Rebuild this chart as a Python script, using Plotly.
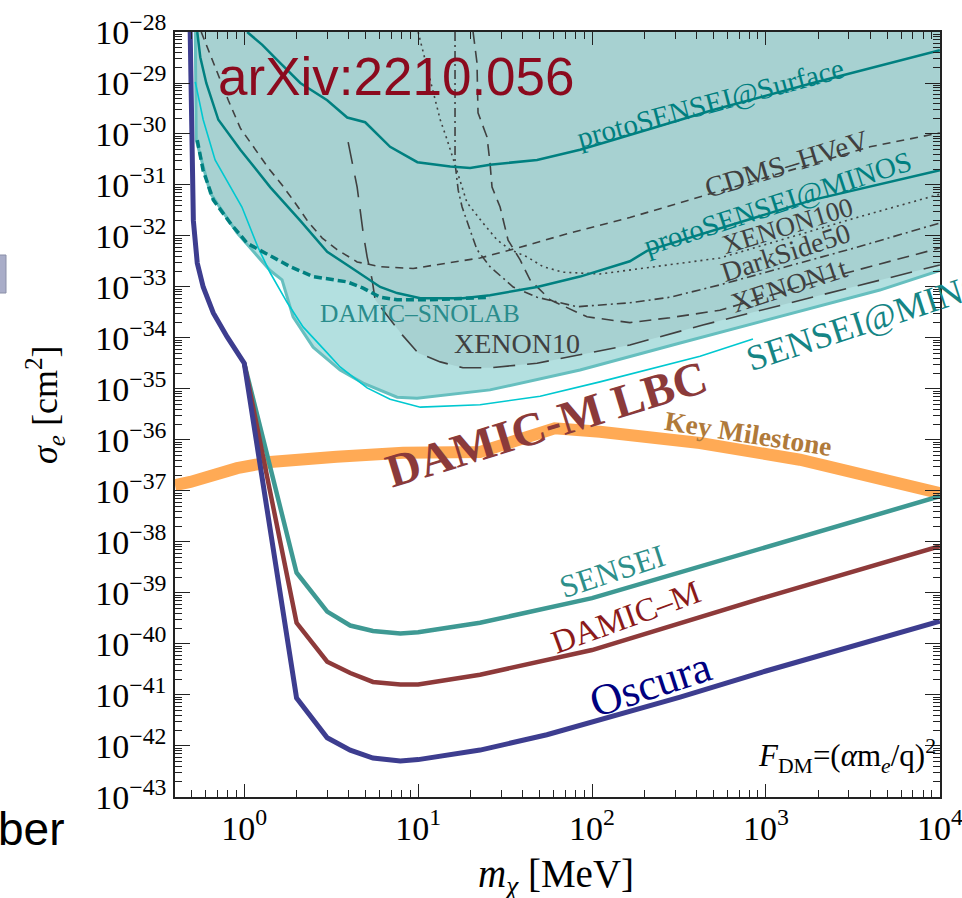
import plotly.graph_objects as go

# ---------------- data (mass in MeV, cross section in cm^2) ----------------
oscura_m = [0.489, 0.503, 0.51, 0.537, 0.581, 0.664, 0.798, 1.0, 2.0, 3.0, 4.07, 5.5, 7.9, 10, 22.7, 55, 100, 321, 1000, 10000]
oscura_s = [1e-28, 1.26e-31, 2.0e-32, 2.95e-33, 1.0e-33, 3.1e-34, 1.05e-34, 3.2e-35, 8.7e-42, 1.45e-42, 8.3e-43, 5.8e-43, 5.1e-43, 5.4e-43, 8.3e-43, 1.66e-42, 2.95e-42, 9.1e-42, 2.95e-41, 2.8e-40]

damicm_m = [1.0, 2.0, 3.0, 4.07, 5.5, 7.9, 10, 22.7, 100, 1000, 10000]
damicm_s = [3.2e-35, 2.6e-40, 4.5e-41, 2.7e-41, 1.8e-41, 1.6e-41, 1.6e-41, 2.5e-41, 7.6e-41, 8.3e-40, 8.3e-39]

sensei_m = [1.0, 2.0, 3.0, 4.07, 5.5, 7.9, 10, 22.7, 100, 1000, 10000]
sensei_s = [3.2e-35, 2.5e-39, 4.3e-40, 2.3e-40, 1.8e-40, 1.6e-40, 1.7e-40, 2.6e-40, 7.9e-40, 7.9e-39, 7.9e-38]

milestone_m = [0.40, 0.49, 0.91, 1.41, 3.4, 8.2, 22.7, 38.6, 61, 111, 418, 1568, 5890, 10000]
milestone_s = [1.3e-37, 1.5e-37, 2.8e-37, 3.7e-37, 4.7e-37, 5.6e-37, 5.8e-37, 1.0e-36, 1.7e-36, 1.45e-36, 8.7e-37, 4.1e-37, 1.5e-37, 9.1e-38]

minos_region_m = [0.523, 0.53, 0.638, 0.91, 1.41, 1.65, 1.91, 2.49, 3.56, 4.83, 7.57, 9.86, 25.9, 85.3, 321, 1203, 4520, 10000]
minos_region_s = [1e-28, 7.6e-31, 6.9e-32, 1.15e-32, 2.1e-33, 1.38e-33, 2.6e-34, 6.6e-35, 2.35e-35, 1.3e-35, 6.9e-36, 6.6e-36, 9.6e-36, 2.35e-35, 8e-35, 2.6e-34, 8.7e-34, 2.1e-33]

excluded_m = [0.533, 0.537, 0.58, 0.664, 0.83, 1.04, 1.36, 1.84, 2.49, 3.42, 3.91, 4.83, 5.51, 5.66, 6.72, 8.1, 10, 13.4, 18.1, 25.9, 48.3, 74.8, 165, 434, 1862, 10000]
excluded_s = [1e-28, 7.6e-31, 1.95e-31, 5.1e-32, 1.8e-32, 7.2e-33, 4.3e-33, 2.5e-33, 1.6e-33, 1.38e-33, 1.26e-33, 9.5e-34, 8.0e-34, 5.6e-34, 2.6e-34, 1.15e-34, 5.1e-35, 3.4e-35, 2.6e-35, 2.6e-35, 3.2e-35, 4.3e-35, 7.3e-35, 1.8e-34, 6.3e-34, 2.7e-33]

sensei2019_m = [0.523, 0.581, 0.68, 0.97, 1.2, 1.41, 1.77, 2.18, 3.0, 3.56, 5.09, 6.9, 10.3, 22.7, 50.3, 111, 418, 842]
sensei2019_s = [1.05e-29, 1.9e-30, 3.1e-31, 3.7e-32, 6e-33, 1.9e-33, 4.9e-34, 1.65e-34, 5.1e-35, 2.7e-35, 1.05e-35, 6.3e-36, 4.4e-36, 4.9e-36, 7.2e-36, 1.38e-35, 4.4e-35, 9.6e-35]

snolab_m = [0.537, 0.58, 0.664, 0.83, 1.04, 1.36, 1.84, 2.49, 3.42, 3.91, 4.83, 6.05, 7.57, 11.7, 25.9]
snolab_s = [7.6e-31, 1.95e-31, 5.1e-32, 1.8e-32, 7.2e-33, 4.3e-33, 2.5e-33, 1.6e-33, 1.38e-33, 1.26e-33, 9.5e-34, 6.3e-34, 5.6e-34, 5.6e-34, 6.3e-34]

psminos_m = [0.537, 0.559, 0.605, 0.71, 0.95, 1.41, 2.1, 3.0, 3.91, 4.83, 6.05, 7.57, 10.3, 18.1, 25.9, 48.3, 85.3, 165, 207, 1862, 10000]
psminos_s = [1e-28, 3.2e-29, 1e-29, 1.9e-30, 4.9e-31, 9.1e-32, 2.0e-32, 4.9e-33, 2.7e-33, 1.7e-33, 1e-33, 7.6e-34, 6e-34, 6e-34, 6.9e-34, 1e-33, 1.6e-33, 3.2e-33, 5.1e-33, 5.1e-32, 1.95e-31]

pssurf_m = [1.04, 1.27, 1.55, 2.1, 3.0, 3.91, 4.96, 6.9, 9.9, 15.3, 19.9, 25.9, 48.3, 85.3, 132, 496, 1862, 10000]
pssurf_s = [1e-28, 5.6e-29, 2.8e-29, 1e-29, 4.6e-30, 2.1e-30, 1.7e-30, 5.6e-31, 2.8e-31, 2.3e-31, 2.15e-31, 2.5e-31, 3.1e-31, 4.9e-31, 7.6e-31, 2.95e-30, 1e-29, 4.4e-29]

cdms_m = [0.566, 0.638, 0.70, 0.81, 0.95, 1.13, 1.37, 1.65, 1.96, 2.33, 2.81, 3.42, 4.46, 6.05, 9.36, 14.7, 22.7, 38.6, 74.8, 165, 496, 3963, 10000]
cdms_s = [1e-28, 3.5e-29, 1.65e-29, 4.6e-30, 1.3e-30, 5.6e-31, 2.2e-31, 1e-31, 4.5e-32, 1.9e-32, 9.1e-33, 5.4e-33, 3.1e-33, 2.5e-33, 2.3e-33, 2.95e-33, 3.7e-33, 6e-33, 1.15e-32, 2.3e-32, 6.9e-32, 5.6e-31, 1.05e-30]

xenon10_m = [3.96, 4.46, 4.83, 5.09, 5.44, 5.66, 6.72, 8.1, 10, 13.4, 18.1, 25.9, 48.3, 74.8, 165, 434, 1862, 10000]
xenon10_s = [6.9e-31, 9.1e-32, 1.15e-32, 3.9e-33, 1.38e-33, 5.6e-34, 2.6e-34, 1.15e-34, 5.1e-35, 3.4e-35, 2.6e-35, 2.6e-35, 3.2e-35, 4.3e-35, 7.3e-35, 1.8e-34, 6.3e-34, 2.7e-33]

xenon100_m = [10, 11.7, 13.4, 14.7, 17.0, 19.1, 23.6, 28.5, 33.8, 42.3, 52.3, 68, 111, 224, 544, 3334, 10000]
xenon100_s = [1e-28, 1.15e-29, 1.9e-30, 7.6e-31, 1.6e-31, 4.5e-32, 1.8e-32, 8.3e-33, 5.4e-33, 3.9e-33, 2.5e-33, 1.95e-33, 1.8e-33, 2.5e-33, 3.7e-33, 2.3e-32, 6.6e-32]

darkside_m = [16.3, 16.3, 17.0, 17.9, 19.9, 21.8, 25.9, 35.2, 48.3, 82, 165, 281, 544, 3334, 10000]
darkside_s = [1e-28, 2.7e-31, 7.9e-32, 3.7e-32, 1.3e-32, 5.4e-33, 2.5e-33, 1e-33, 6.3e-34, 4.1e-34, 4.9e-34, 6.3e-34, 1.1e-33, 6e-33, 1.8e-32]

xenon1t_m = [20.7, 21.8, 22.1, 24.9, 25.9, 26.6, 29.6, 32.9, 38.6, 44.0, 57.4, 93.5, 165, 281, 544, 2922, 10000]
xenon1t_s = [1e-28, 2.5e-29, 2.6e-30, 8.7e-31, 2.7e-31, 9.1e-32, 3.7e-32, 8.3e-33, 3.4e-33, 1.38e-33, 5.6e-34, 2.6e-34, 2.0e-34, 2.5e-34, 3.5e-34, 1.9e-33, 5.8e-33]

x_tick_vals = [1, 10, 100, 1000, 10000]
x_tick_text = ["10<sup>0</sup>", "10<sup>1</sup>", "10<sup>2</sup>", "10<sup>3</sup>", "10<sup>4</sup>"]
y_exponents = list(range(-43, -27))
y_tick_vals = [10.0 ** e for e in y_exponents]
y_tick_text = ["10<sup>\u2212%d</sup>" % (-e) for e in y_exponents]

# ---------------- layout constants ----------------
W, H = 962, 898
L, R, T, B = 175, 22, 32, 101
XMIN, XMAX = 0.4, 10000.0
YMIN, YMAX = 1e-43, 1e-28
SERIF = "Liberation Serif"
SANS = "Liberation Sans"


def paper(px, py):
    return (px - L) / (W - L - R), (H - B - py) / (H - T - B)


fig = go.Figure()


def region(m, s, color):
    xs = list(m) + [m[-1], m[0]]
    ys = list(s) + [YMAX * 10, YMAX * 10]
    fig.add_trace(go.Scatter(x=xs, y=ys, fill="toself", fillcolor=color, mode="lines",
                             line=dict(width=0), hoverinfo="skip", showlegend=False))


def curve(m, s, color, width, dash="solid"):
    fig.add_trace(go.Scatter(x=m, y=s, mode="lines", line=dict(color=color, width=width, dash=dash),
                             hoverinfo="skip", showlegend=False))


region(minos_region_m, minos_region_s, "#B3E0E0")
region(excluded_m, excluded_s, "#A7D1D1")
curve(minos_region_m, minos_region_s, "#66BFBF", 3)
curve(sensei2019_m, sensei2019_s, "#00C8D0", 1.6)
curve(cdms_m, cdms_s, "#404040", 1.6, "8px,6px")
curve(xenon10_m, xenon10_s, "#404040", 1.6, "22px,12px")
curve(xenon100_m, xenon100_s, "#404040", 1.6, "2px,4px")
curve(darkside_m, darkside_s, "#404040", 1.6, "9px,4px,2px,4px")
curve(xenon1t_m, xenon1t_s, "#404040", 1.6, "12px,7px")
curve(pssurf_m, pssurf_s, "#008080", 2.5)
curve(psminos_m, psminos_s, "#008080", 2.5)
curve(snolab_m, snolab_s, "#008080", 3.5, "8px,4px")
curve(milestone_m, milestone_s, "#FFAA55", 12)
curve(sensei_m, sensei_s, "#3E9993", 4.5)
curve(damicm_m, damicm_s, "#8E3A3A", 4.5)
curve(oscura_m, oscura_s, "#3D3D8F", 5)


def label(text, px, py, size, color, angle=0, family=SERIF):
    x, y = paper(px, py)
    fig.add_annotation(x=x, y=y, xref="paper", yref="paper", text=text, showarrow=False,
                       textangle=angle, font=dict(family=family, size=size, color=color),
                       xanchor="center", yanchor="middle")


label("arXiv:2210.056", 396, 76, 53, "#8B0A1E", 0, SANS)
label("protoSENSEI@Surface", 710, 103, 29, "#008080", -15)
label("CDMS\u2013HVeV", 786, 164, 29, "#404040", -17)
label("protoSENSEI@MINOS", 778, 204, 29, "#008080", -18)
label("XENON100", 787, 226, 27, "#404040", -17)
label("DarkSide50", 786, 253, 28, "#404040", -18)
label("XENON1t", 789, 285, 28, "#404040", -18)
label("DAMIC\u2013SNOLAB", 420, 313, 25.5, "#2A8C8C", 0)
label("XENON10", 517, 343, 28, "#404040", 0)
label("SENSEI@MINOS", 876, 318, 36, "#158585", -18)
label("<b>DAMIC-M LBC</b>", 546, 424, 47, "#8B3A3A", -17)
label("<b>Key Milestone</b>", 748, 433, 27.5, "#B07A3A", 9)
label("SENSEI", 612, 571, 32, "#2E8F8A", -18)
label("DAMIC\u2013M", 626, 617, 33, "#8B1A1A", -20)
label("Oscura", 650, 684, 44, "#00007F", -18)
label("<i>F</i><sub>DM</sub>=(<i>\u03b1</i>m<sub><i>e</i></sub>/q)<sup>2</sup>", 847, 756, 31, "#000000", 0)
label("<i>\u03c3<sub>e</sub></i> [cm<sup>2</sup>]", 45, 405, 36, "#000000", -90)
label("<i>m<sub>\u03c7</sub></i> [MeV]", 556, 876, 39, "#000000", 0)
label("ber", 31, 829, 46, "#000000", 0, SANS)

# clipped slide element on the far left
fig.add_shape(type="rect", xref="paper", yref="paper",
              x0=paper(-10, 0)[0], x1=paper(6, 0)[0], y0=paper(0, 293)[1], y1=paper(0, 255)[1],
              fillcolor="#A9ADC8", line=dict(color="#8A8FA8", width=1))

axis_common = dict(type="log", showgrid=False, zeroline=False, showline=True, linecolor="#222222",
                   linewidth=1.5, mirror="allticks", ticks="inside", tickcolor="#222222",
                   tickwidth=1.2, tickfont=dict(family=SERIF, size=34, color="#000000"),
                   tickmode="array", ticklabeloverflow="allow")

x_minor = [k * 10.0 ** e for e in range(-1, 4) for k in range(2, 10) if XMIN <= k * 10.0 ** e <= XMAX]
y_minor = [k * 10.0 ** e for e in range(-43, -28) for k in range(2, 10)]

fig.update_xaxes(range=[-0.398, 4.0008], tickvals=x_tick_vals, ticktext=x_tick_text, ticklen=13,
                 minor=dict(tickmode="array", tickvals=x_minor, ticks="inside", ticklen=7,
                            tickcolor="#222222", tickwidth=1), **axis_common)
fig.update_yaxes(range=[-43.0008, -28], tickvals=y_tick_vals, ticktext=y_tick_text, ticklen=15,
                 minor=dict(tickmode="array", tickvals=y_minor, ticks="inside", ticklen=7,
                            tickcolor="#222222", tickwidth=1), **axis_common)

fig.update_layout(width=W, height=H, margin=dict(l=L, r=R, t=T, b=B, autoexpand=False),
                  paper_bgcolor="white", plot_bgcolor="white", showlegend=False)

fig.write_html("out.html")
